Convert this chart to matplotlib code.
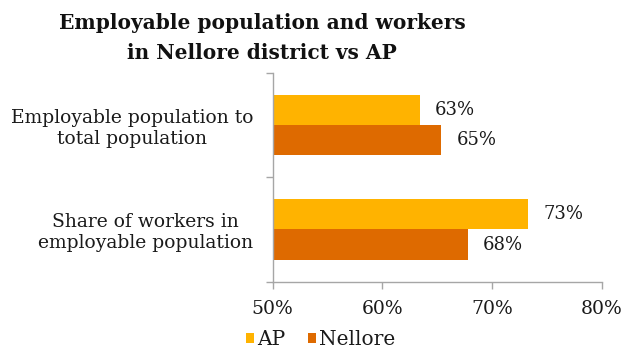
import numpy as np
import matplotlib.pyplot as plt
from matplotlib.ticker import FuncFormatter

# categories and series values (percent)
categories = ["Employable population to\ntotal population",
              "Share of workers in\nemployable population"]
ap_vals = [63.4, 73.3]
nellore_vals = [65.4, 67.8]
xticks = [50, 60, 70, 80]

ap_col = "#FFB300"
nel_col = "#DE6A00"
grey = "#A6A6A6"
txt = "#1a1a1a"

plt.rcParams["font.family"] = ["DejaVu Serif"]

fig = plt.figure(figsize=(6.24, 3.52), dpi=100)
ax = fig.add_axes([0.437, 0.1997, 0.527, 0.594])

y = np.arange(len(categories))
h = 0.29
ax.barh(y - h / 2, ap_vals, height=h, color=ap_col, label="AP")
ax.barh(y + h / 2, nellore_vals, height=h, color=nel_col, label="Nellore")

# value labels
for yy, v in zip(y - h / 2, ap_vals):
    ax.text(v + 1.4, yy, f"{v:.0f}%", va="center", ha="left", fontsize=13, color=txt)
for yy, v in zip(y + h / 2, nellore_vals):
    ax.text(v + 1.4, yy, f"{v:.0f}%", va="center", ha="left", fontsize=13, color=txt)

ax.set_xlim(50, 80)
ax.set_ylim(1.5, -0.5)
ax.set_xticks(xticks)
ax.xaxis.set_major_formatter(FuncFormatter(lambda v, p: f"{v:.0f}%"))

# category boundaries get tick marks, labels sit on minor ticks
ax.set_yticks([-0.5, 0.5, 1.5])
ax.set_yticklabels([])
ax.set_yticks(y, minor=True)
ax.set_yticklabels(categories, minor=True, fontsize=13.5, color=txt)
for lab in ax.get_yticklabels(minor=True):
    lab.set_multialignment("center")
ax.tick_params(axis="y", which="minor", length=0, pad=14)
ax.tick_params(axis="y", which="major", length=5, color=grey, width=1)
ax.tick_params(axis="x", length=5, color=grey, width=1, labelsize=13.5,
               labelcolor=txt, pad=8)

for s in ["top", "right"]:
    ax.spines[s].set_visible(False)
for s in ["left", "bottom"]:
    ax.spines[s].set_color(grey)
    ax.spines[s].set_linewidth(1)

fig.suptitle("Employable population and workers\nin Nellore district vs AP",
             x=0.42, y=0.962, fontsize=14.5, fontweight="bold", color="#111111",
             linespacing=1.6)

ax.legend(loc="lower left", bbox_to_anchor=(-0.135, -0.41), ncol=2, frameon=False,
          fontsize=14.5, handlelength=0.4, handleheight=0.4, handletextpad=0.15,
          columnspacing=1.1, labelcolor=txt)

fig.savefig("out.png", dpi=100)
